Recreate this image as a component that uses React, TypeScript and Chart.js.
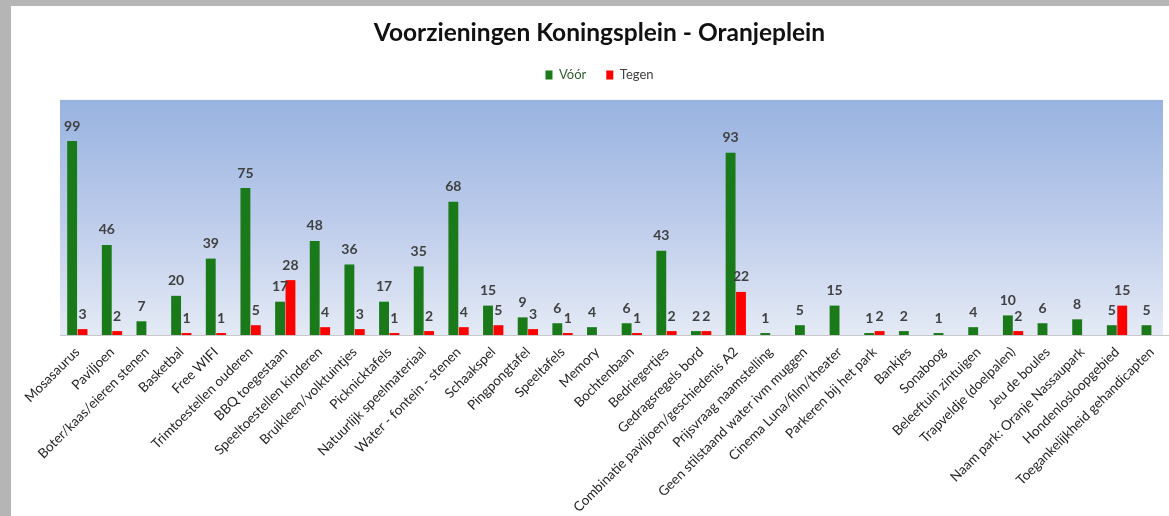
import React, { useEffect, useRef } from "react";
import { Chart, registerables } from "chart.js";

Chart.register(...registerables);

const categories: string[] = [
  "Mosasaurus",
  "Paviljoen",
  "Boter/kaas/eieren stenen",
  "Basketbal",
  "Free WIFI",
  "Trimtoestellen ouderen",
  "BBQ toegestaan",
  "Speeltoestellen kinderen",
  "Bruikleen/volktuintjes",
  "Picknicktafels",
  "Natuurlijk speelmateriaal",
  "Water - fontein - stenen",
  "Schaakspel",
  "Pingpongtafel",
  "Speeltafels",
  "Memory",
  "Bochtenbaan",
  "Bedriegertjes",
  "Gedragsregels bord",
  "Combinatie paviljoen/geschiedenis A2",
  "Prijsvraag naamstelling",
  "Geen stilstaand water ivm muggen",
  "Cinema Luna/film/theater",
  "Parkeren bij het park",
  "Bankjes",
  "Sonaboog",
  "Beleeftuin zintuigen",
  "Trapveldje (doelpalen)",
  "Jeu de boules",
  "Naam park: Oranje Nassaupark",
  "Hondenlosloopgebied",
  "Toegankelijkheid gehandicapten",
];

const voor: (number | null)[] = [
  99, 46, 7, 20, 39, 75, 17, 48, 36, 17, 35, 68, 15, 9, 6, 4, 6, 43, 2, 93, 1, 5, 15, 1, 2, 1, 4, 10, 6, 8, 5, 5,
];

const tegen: (number | null)[] = [
  3, 2, null, 1, 1, 5, 28, 4, 3, 1, 2, 4, 5, 3, 1, null, 1, 2, 2, 22, null, null, null, 2, null, null, null, 2, null, null, 15, null,
];

const seriesNames = ["Vóór", "Tegen"];
const yMax = 120;

const FONT = "Lato, 'Liberation Sans', sans-serif";

const backgroundPlugin = {
  id: "pageBackground",
  beforeDraw(chart: any) {
    const { ctx, width, height, chartArea } = chart;
    ctx.save();
    ctx.fillStyle = "#ffffff";
    ctx.fillRect(0, 0, width, height);
    // gray frame
    ctx.fillStyle = "#b5b5b5";
    ctx.fillRect(0, 0, width, 6);
    ctx.fillRect(0, 0, 11, height);
    // plot area gradient
    const g = ctx.createLinearGradient(0, chartArea.top, 0, chartArea.bottom);
    g.addColorStop(0, "#98b3e0");
    g.addColorStop(0.5, "#bccbeb");
    g.addColorStop(1, "#e4eaf5");
    ctx.fillStyle = g;
    ctx.fillRect(chartArea.left, chartArea.top, Math.min(chartArea.right, 1163) - chartArea.left, chartArea.bottom - chartArea.top);
    ctx.restore();
  },
};

const valueLabelPlugin = {
  id: "valueLabels",
  afterDatasetsDraw(chart: any) {
    const { ctx } = chart;
    ctx.save();
    ctx.font = `bold 14px ${FONT}`;
    ctx.fillStyle = "#404040";
    ctx.textAlign = "center";
    ctx.textBaseline = "bottom";
    chart.data.datasets.forEach((ds: any, di: number) => {
      const meta = chart.getDatasetMeta(di);
      meta.data.forEach((bar: any, i: number) => {
        const v = ds.data[i];
        if (v === null || v === undefined) return;
        ctx.fillText(String(v), bar.x, bar.y - 8);
      });
    });
    ctx.restore();
  },
};

export default function App() {
  const ref = useRef<HTMLCanvasElement>(null);
  useEffect(() => {
    if (!ref.current) return;
    const chart = new Chart(ref.current, {
      type: "bar",
      data: {
        labels: categories,
        datasets: [
          {
            label: seriesNames[0],
            data: voor,
            backgroundColor: "#1a7a1a",
            categoryPercentage: 0.6,
            barPercentage: 0.95,
          },
          {
            label: seriesNames[1],
            data: tegen,
            backgroundColor: "#ff0000",
            categoryPercentage: 0.6,
            barPercentage: 0.95,
          },
        ],
      },
      options: {
        responsive: false,
        animation: false,
        layout: { padding: { top: 18, left: 30, right: 0, bottom: 0 } },
        plugins: {
          title: {
            display: true,
            text: "Voorzieningen Koningsplein - Oranjeplein",
            color: "#111111",
            font: { family: FONT, size: 24.5, weight: "bold" },
            padding: { top: 0, bottom: 1 },
          },
          subtitle: {
            display: true,
            text: " ",
            weight: 500,
            font: { family: FONT, size: 1, lineHeight: 1 },
            padding: { top: 0, bottom: 7.5 },
          } as any,
          legend: {
            display: true,
            position: "top",
            labels: {
              boxWidth: 7,
              boxHeight: 9,
              padding: 20,
              font: { family: FONT, size: 13 },
              color: "#404040",
              generateLabels: (chart: any) => {
                const items = Chart.defaults.plugins.legend.labels.generateLabels(chart);
                items.forEach((it: any, i: number) => {
                  it.fontColor = i === 0 ? "#2f5f2f" : "#404040";
                  it.lineWidth = 0;
                });
                return items;
              },
            },
          },
          tooltip: { enabled: false },
        },
        scales: {
          x: {
            grid: { display: false, drawTicks: false },
            border: { display: true, color: "#c8c8c8", width: 1 },
            ticks: {
              autoSkip: false,
              minRotation: 45,
              maxRotation: 45,
              padding: 9,
              color: "#1f1f1f",
              font: { family: FONT, size: 13.5 },
            },
            afterFit: (scale: any) => {
              scale.height = 181;
              scale.paddingLeft = 0;
              scale.paddingRight = 0;
            },
          },
          y: {
            display: true,
            min: 0,
            max: yMax,
            grid: { display: false, drawTicks: false },
            border: { display: false },
            ticks: { display: false },
            afterFit: (scale: any) => {
              scale.width = 30;
            },
          },
        },
      },
      plugins: [backgroundPlugin, valueLabelPlugin],
    });
    return () => chart.destroy();
  }, []);
  return (
    <div style={{ position: "fixed", left: 0, top: 0, width: 1169, height: 516, background: "#fff" }}>
      <canvas ref={ref} width={1169} height={516} style={{ display: "block" }} />
    </div>
  );
}
